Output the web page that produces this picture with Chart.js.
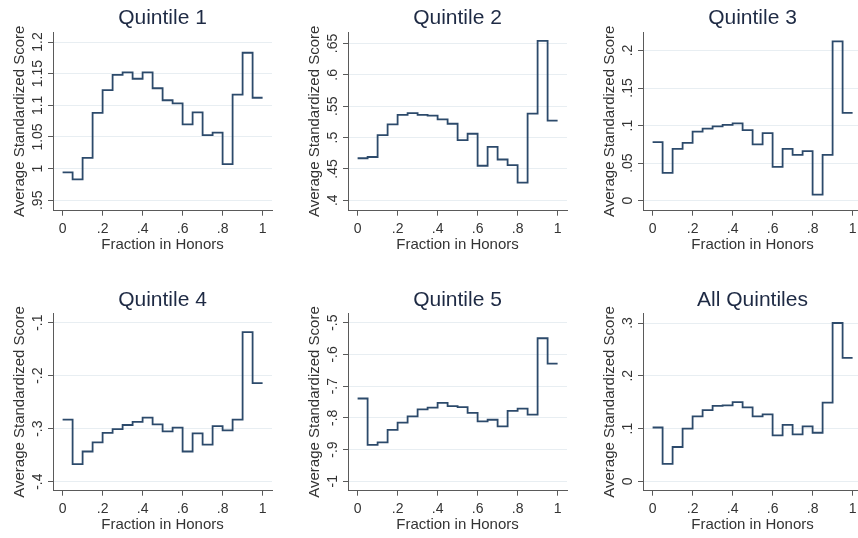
<!DOCTYPE html>
<html>
<head>
<meta charset="utf-8">
<script src="https://cdn.jsdelivr.net/npm/chart.js@4/dist/chart.umd.min.js"></script>
<style>
  html, body { margin: 0; padding: 0; background: #ffffff; width: 858px; height: 538px; overflow: hidden; position: relative; }
  canvas { position: absolute; }
</style>
</head>
<body>
<canvas id="c0"></canvas>
<canvas id="c1"></canvas>
<canvas id="c2"></canvas>
<canvas id="c3"></canvas>
<canvas id="c4"></canvas>
<canvas id="c5"></canvas>
<script>
// Left edge of each honors-fraction bin (bins are 0.05 wide, last one ends at 1)
const binStart = [0, 0.05, 0.10, 0.15, 0.20, 0.25, 0.30, 0.35, 0.40, 0.45,
                  0.50, 0.55, 0.60, 0.65, 0.70, 0.75, 0.80, 0.85, 0.90, 0.95];

// Average standardized score in each bin
const quintile1 = [0.994, 0.983, 1.017, 1.088, 1.124, 1.148, 1.152, 1.142, 1.152, 1.127,
                   1.108, 1.103, 1.070, 1.089, 1.053, 1.057, 1.007, 1.117, 1.183, 1.112];
const quintile2 = [0.467, 0.469, 0.504, 0.521, 0.536, 0.539, 0.536, 0.535, 0.529, 0.522,
                   0.496, 0.506, 0.455, 0.485, 0.465, 0.456, 0.428, 0.538, 0.654, 0.527];
const quintile3 = [0.078, 0.037, 0.069, 0.077, 0.092, 0.096, 0.099, 0.101, 0.103, 0.094,
                   0.075, 0.090, 0.045, 0.069, 0.061, 0.066, 0.008, 0.061, 0.212, 0.117];
const quintile4 = [-0.283, -0.367, -0.343, -0.326, -0.308, -0.301, -0.293, -0.287, -0.279, -0.292,
                   -0.305, -0.298, -0.343, -0.309, -0.330, -0.295, -0.303, -0.283, -0.118, -0.214];
const quintile5 = [-0.739, -0.885, -0.877, -0.838, -0.815, -0.795, -0.773, -0.768, -0.753, -0.763,
                   -0.766, -0.784, -0.811, -0.806, -0.827, -0.778, -0.771, -0.790, -0.549, -0.629];
const allQuintiles = [0.102, 0.033, 0.065, 0.100, 0.123, 0.135, 0.143, 0.144, 0.150, 0.140,
                      0.123, 0.127, 0.087, 0.107, 0.089, 0.104, 0.092, 0.149, 0.300, 0.234];

const panelTitles = ['Quintile 1', 'Quintile 2', 'Quintile 3', 'Quintile 4', 'Quintile 5', 'All Quintiles'];

// Tick values
const xTicks = [0, 0.2, 0.4, 0.6, 0.8, 1];
const yTicksQ1 = [0.95, 1, 1.05, 1.1, 1.15, 1.2];
const yTicksQ2 = [0.4, 0.45, 0.5, 0.55, 0.6, 0.65];
const yTicksQ3 = [0, 0.05, 0.1, 0.15, 0.2];
const yTicksQ4 = [-0.4, -0.3, -0.2, -0.1];
const yTicksQ5 = [-1, -0.9, -0.8, -0.7, -0.6, -0.5];
const yTicksAll = [0, 0.1, 0.2, 0.3];

const xTitle = 'Fraction in Honors';
const yTitle = 'Average Standardized Score';

// Styling
const FONT = '"Liberation Sans", Arial, Helvetica, sans-serif';
const LINE_COLOR = '#2c4a6b';
const AXIS_COLOR = '#5a5a5a';
const GRID_COLOR = '#e8eef2';
const TEXT_COLOR = '#333333';
const TITLE_COLOR = '#1e2a44';

// Stata-style number labels: drop the leading zero (".2", "-.1")
function fmt(v) {
  const s = String(parseFloat(Number(v).toFixed(3)));
  return s.replace(/^(-?)0\./, '$1.');
}

// Y tick labels are drawn rotated, reading bottom-to-top, at the axis tick positions
const rotatedYLabels = {
  id: 'rotatedYLabels',
  afterDraw(chart) {
    const s = chart.scales.y;
    const ctx = chart.ctx;
    ctx.save();
    ctx.font = '14px ' + FONT;
    ctx.fillStyle = TEXT_COLOR;
    ctx.textAlign = 'center';
    ctx.textBaseline = 'middle';
    s.ticks.forEach(t => {
      const y = s.getPixelForValue(t.value);
      ctx.save();
      ctx.translate(s.right - 15, y);
      ctx.rotate(-Math.PI / 2);
      ctx.fillText(t.label, 0, 0);
      ctx.restore();
    });
    ctx.restore();
  }
};

const panels = [
  { values: quintile1,    yTicks: yTicksQ1,  yMin: 0.9336, yMax: 1.2158, col: 0, row: 0 },
  { values: quintile2,    yTicks: yTicksQ2,  yMin: 0.3834, yMax: 0.6682, col: 1, row: 0 },
  { values: quintile3,    yTicks: yTicksQ3,  yMin: -0.0134, yMax: 0.2246, col: 2, row: 0 },
  { values: quintile4,    yTicks: yTicksQ4,  yMin: -0.417, yMax: -0.0823, col: 0, row: 1 },
  { values: quintile5,    yTicks: yTicksQ5,  yMin: -1.0296, yMax: -0.4704, col: 1, row: 1 },
  { values: allQuintiles, yTicks: yTicksAll, yMin: -0.0178, yMax: 0.3184, col: 2, row: 1 }
];

const COL_LEFT = [0, 295, 590];
const ROW_TOP = [0, 280];
const CANVAS_W = 280, CANVAS_H = 260;
const Y_AXIS_W = 53;
const PLOT_BOTTOM = 210.7;
const TITLE_PAD_TOP = [5.6, 7.6];
const TITLE_PAD_BOTTOM = [1.2, 0.5];

panels.forEach((p, i) => {
  const canvas = document.getElementById('c' + i);
  canvas.width = CANVAS_W;
  canvas.height = CANVAS_H;
  canvas.style.left = COL_LEFT[p.col] + 'px';
  canvas.style.top = ROW_TOP[p.row] + 'px';
  canvas.style.width = CANVAS_W + 'px';
  canvas.style.height = CANVAS_H + 'px';

  // step series: each bin value holds until the next bin edge; closes at x = 1
  const pts = binStart.map((x, k) => ({ x: x, y: p.values[k] }));
  pts.push({ x: 1, y: p.values[p.values.length - 1] });

  new Chart(canvas, {
    type: 'line',
    data: {
      datasets: [{
        data: pts,
        stepped: true,
        borderColor: LINE_COLOR,
        borderWidth: 1.8,
        pointRadius: 0,
        fill: false
      }]
    },
    options: {
      responsive: false,
      animation: false,
      devicePixelRatio: 1,
      layout: { padding: { top: TITLE_PAD_TOP[p.row], right: 8, bottom: 0, left: 0 } },
      plugins: {
        legend: { display: false },
        tooltip: { enabled: false },
        title: {
          display: true,
          text: panelTitles[i],
          fullSize: false,
          color: TITLE_COLOR,
          font: { family: FONT, size: 21, weight: 'normal', lineHeight: 1.2 },
          padding: { top: 0, bottom: TITLE_PAD_BOTTOM[p.row] }
        }
      },
      scales: {
        x: {
          type: 'linear',
          min: -0.048,
          max: 1.047,
          afterBuildTicks: s => { s.ticks = xTicks.map(v => ({ value: v })); },
          afterFit: s => { s.height = CANVAS_H - PLOT_BOTTOM; },
          ticks: {
            callback: v => fmt(v),
            color: TEXT_COLOR,
            font: { family: FONT, size: 14 },
            padding: 5,
            maxRotation: 0,
            autoSkip: false
          },
          grid: {
            drawOnChartArea: false,
            drawTicks: true,
            tickLength: 5,
            tickColor: AXIS_COLOR,
            tickWidth: 1
          },
          border: { display: true, color: AXIS_COLOR, width: 1 },
          title: {
            display: true,
            text: xTitle,
            color: TEXT_COLOR,
            font: { family: FONT, size: 15, lineHeight: 1.2 },
            padding: { top: 0, bottom: 6 }
          }
        },
        y: {
          type: 'linear',
          min: p.yMin,
          max: p.yMax,
          afterBuildTicks: s => { s.ticks = p.yTicks.map(v => ({ value: v })); },
          afterFit: s => { s.width = Y_AXIS_W; },
          ticks: {
            display: false,
            callback: v => fmt(v)
          },
          grid: {
            drawOnChartArea: true,
            color: GRID_COLOR,
            lineWidth: 1,
            drawTicks: true,
            tickLength: 5,
            tickColor: AXIS_COLOR,
            tickWidth: 1
          },
          border: { display: true, color: AXIS_COLOR, width: 1 },
          title: {
            display: true,
            text: yTitle,
            color: TEXT_COLOR,
            font: { family: FONT, size: 15, lineHeight: 1.2 },
            padding: { top: 10.7, bottom: 0 }
          }
        }
      }
    },
    plugins: [rotatedYLabels]
  });
});
</script>
</body>
</html>
